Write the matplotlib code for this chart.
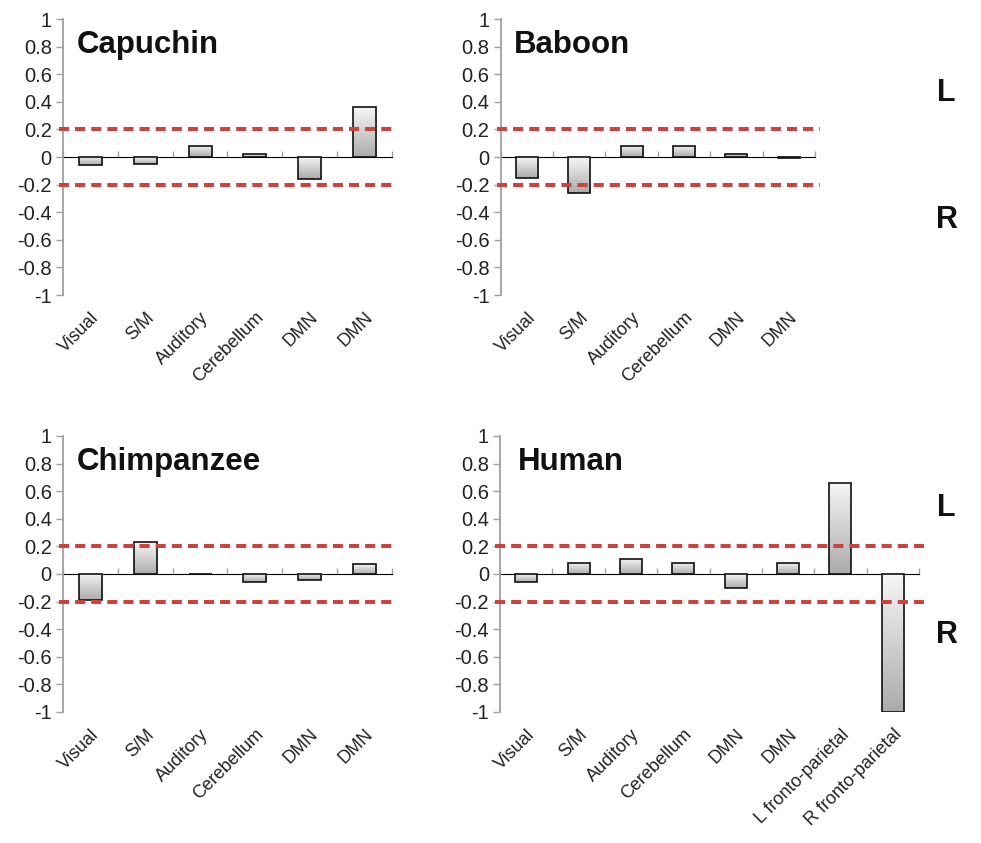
import numpy as np
import matplotlib
matplotlib.use('Agg')
import matplotlib.pyplot as plt
from matplotlib.colors import LinearSegmentedColormap

plt.rcParams['font.family'] = ['Liberation Sans', 'DejaVu Sans']

# data
cats6 = ['Visual', 'S/M', 'Auditory', 'Cerebellum', 'DMN', 'DMN']
cats8 = cats6 + ['L fronto-parietal', 'R fronto-parietal']

capuchin = [-0.06, -0.05, 0.08, 0.02, -0.16, 0.36]
baboon = [-0.15, -0.26, 0.08, 0.08, 0.025, -0.01]
chimp = [-0.19, 0.23, 0.0, -0.06, -0.045, 0.07]
human = [-0.06, 0.08, 0.11, 0.08, -0.10, 0.08, 0.66, -1.0]

threshold = 0.2
yticks = np.round(np.arange(-1, 1.01, 0.2), 1)
yticklabels = ['-1', '-0.8', '-0.6', '-0.4', '-0.2', '0', '0.2', '0.4', '0.6', '0.8', '1']

panels = [
    ('Capuchin', cats6, capuchin, [0.0642, 0.650, 0.3354, 0.3274]),
    ('Baboon', cats6, baboon, [0.5104, 0.650, 0.3204, 0.3274]),
    ('Chimpanzee', cats6, chimp, [0.0642, 0.1554, 0.3354, 0.3274]),
    ('Human', cats8, human, [0.5097, 0.1554, 0.4271, 0.3274]),
]

gray = '#a0a0a0'
red = '#c9433f'
cmap = LinearSegmentedColormap.from_list('barfill', ['#f6f6f6', '#ababab'])
grad = np.linspace(0, 1, 200).reshape(-1, 1)

fig = plt.figure(figsize=(9.81, 8.43), dpi=100)

for name, cats, vals, pos in panels:
    ax = fig.add_axes(pos)
    n = len(cats)
    x = np.arange(n)
    bars = ax.bar(x, vals, width=0.42, facecolor='none', edgecolor='#111111',
                  linewidth=1.2, zorder=3)
    for rect in bars:
        x0, y0 = rect.get_xy()
        w, h = rect.get_width(), rect.get_height()
        if abs(h) < 1e-6:
            continue
        lo, hi = min(y0, y0 + h), max(y0, y0 + h)
        im = ax.imshow(grad, extent=[x0, x0 + w, lo, hi], aspect='auto',
                       cmap=cmap, origin='upper', zorder=2, interpolation='bilinear')
        im.set_clip_path(rect)

    ax.set_xlim(-0.5, n - 0.5)
    ax.set_ylim(-1, 1)
    ax.set_aspect('auto')

    # threshold lines
    for t in (threshold, -threshold):
        ax.axhline(t, xmin=-0.012, xmax=1.015, color=red, linewidth=2.9,
                   dashes=(2.5, 1.5), zorder=4, clip_on=False)

    # zero line with category boundary ticks
    sec = ax.secondary_xaxis(0.5)
    sec.set_xticks(np.arange(n + 1) - 0.5)
    sec.set_xticklabels([])
    sec.tick_params(axis='x', length=4, width=1, color=gray)
    sec.spines['bottom'].set_color(gray)
    sec.spines['bottom'].set_linewidth(1.3)

    for s in ('top', 'right', 'bottom'):
        ax.spines[s].set_visible(False)
    ax.spines['left'].set_color(gray)
    ax.spines['left'].set_linewidth(1.3)

    ax.set_yticks(yticks)
    ax.set_yticklabels(yticklabels)
    ax.tick_params(axis='y', length=5, width=1, color=gray, labelsize=14.5,
                   labelcolor='#222222', pad=3)

    ax.set_xticks(x)
    ax.set_xticklabels(cats, rotation=45, ha='right', va='top',
                       rotation_mode='anchor', fontsize=13, color='#222222')
    ax.tick_params(axis='x', length=0, pad=10)

    ax.text(0.043, 0.877, name, transform=ax.transAxes,
            fontsize=22.5, fontweight='bold', va='baseline', ha='left', color='#111111')

# L / R side labels
for yl, yr in ((0.89, 0.739), (0.397, 0.247)):
    fig.text(0.965, yl, 'L', fontsize=22, fontweight='bold', ha='center', va='center', color='#111111')
    fig.text(0.965, yr, 'R', fontsize=22, fontweight='bold', ha='center', va='center', color='#111111')

fig.savefig('out.png', dpi=100)
